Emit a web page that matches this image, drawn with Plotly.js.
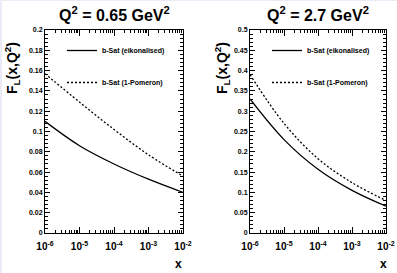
<!DOCTYPE html>
<html>
<head>
<meta charset="utf-8">
<script src="https://cdn.plot.ly/plotly-3.0.1.min.js"></script>
<style>html,body{margin:0;padding:0;background:#fff;}#chart{width:397px;height:273px;}</style>
</head>
<body>
<div id="chart"></div>
<script>
// ---- data ----
const xValues = [1e-6, 1e-5, 1e-4, 1e-3, 1e-2];
const xTickVals = [1e-6, 1e-5, 1e-4, 1e-3, 1e-2];
const xTickText = ['<b>10<sup>-6</sup></b>', '<b>10<sup>-5</sup></b>', '<b>10<sup>-4</sup></b>', '<b>10<sup>-3</sup></b>', '<b>10<sup>-2</sup></b>'];
const seriesNames = ['b-Sat (eikonalised)', 'b-Sat (1-Pomeron)'];
const panelTitles = ['Q<sup>2</sup> = 0.65 GeV<sup>2</sup>', 'Q<sup>2</sup> = 2.7 GeV<sup>2</sup>'];
const eikLow = [0.110, 0.086, 0.068, 0.053, 0.040];
const pomLow = [0.157, 0.129, 0.102, 0.077, 0.056];
const eikHigh = [0.330, 0.230, 0.157, 0.105, 0.066];
const pomHigh = [0.390, 0.270, 0.183, 0.124, 0.080];

// minor tick positions (2..9 per decade)
const minorVals = [];
for (let e = -6; e < -2; e++) for (let m = 2; m <= 9; m++) minorVals.push(m * Math.pow(10, e));

const FONT = 'Liberation Sans, Arial, sans-serif';
const W = 397, H = 273;

function mkTrace(x, y, name, xa, ya, dash, leg, grp) {
  return {x: x, y: y, name: '<b>' + name + '</b>', xaxis: xa, yaxis: ya, mode: 'lines', type: 'scatter',
    line: {color: 'black', width: 1.3, dash: dash, shape: 'spline', smoothing: 1},
    legend: leg, legendgroup: grp, hoverinfo: 'skip'};
}
const data = [
  mkTrace(xValues, eikLow, seriesNames[0], 'x', 'y', 'solid', 'legend', 'a1'),
  mkTrace(xValues, pomLow, seriesNames[1], 'x', 'y', '2px,2px', 'legend', 'a2'),
  mkTrace(xValues, eikHigh, seriesNames[0], 'x2', 'y2', 'solid', 'legend2', 'b1'),
  mkTrace(xValues, pomHigh, seriesNames[1], 'x2', 'y2', '2px,2px', 'legend2', 'b2')
];

function xAxis(dom, anchor) {
  return {type: 'log', domain: dom, anchor: anchor, range: [-6, -2],
    tickmode: 'array', tickvals: xTickVals, ticktext: xTickText,
    ticks: 'inside', ticklen: 6, tickcolor: 'black', tickwidth: 1, ticklabelstandoff: 4,
    showline: true, linecolor: 'black', linewidth: 1, mirror: 'ticks',
    showgrid: false, zeroline: false,
    tickfont: {family: FONT, size: 10, color: 'black', weight: 'bold'},
    minor: {tickmode: 'array', tickvals: minorVals, ticks: 'inside', ticklen: 3, tickcolor: 'black', showgrid: false},
    fixedrange: true};
}
function yAxis(range, dtick, mdt, anchor) {
  return {domain: [40 / H, 1 - 30 / H], anchor: anchor, range: range,
    tickmode: 'linear', tick0: 0, dtick: dtick,
    ticks: 'inside', ticklen: 5, tickcolor: 'black', tickwidth: 1,
    showline: true, linecolor: 'black', linewidth: 1, mirror: 'ticks',
    showgrid: false, zeroline: false,
    tickfont: {family: FONT, size: 7, color: 'black', weight: 'bold'},
    minor: {dtick: mdt, ticks: 'inside', ticklen: 3, tickcolor: 'black', showgrid: false},
    fixedrange: true};
}

const legFont = {family: FONT, size: 7, color: 'black', weight: 'bold'};
const layout = {
  width: W, height: H,
  margin: {l: 0, r: 0, t: 0, b: 0},
  paper_bgcolor: 'white', plot_bgcolor: 'white',
  showlegend: true,
  xaxis: xAxis([45 / W, 183 / W], 'y'),
  yaxis: yAxis([0, 0.2], 0.02, 0.004, 'x'),
  xaxis2: xAxis([250 / W, 386 / W], 'y2'),
  yaxis2: yAxis([0, 0.5], 0.05, 0.01, 'x2'),
  legend: {x: 62 / W, y: 1 - 36 / H, xanchor: 'left', yanchor: 'top', bgcolor: 'rgba(0,0,0,0)',
    font: legFont, tracegroupgap: 13, itemwidth: 30},
  legend2: {x: 267 / W, y: 1 - 36 / H, xanchor: 'left', yanchor: 'top', bgcolor: 'rgba(0,0,0,0)',
    font: legFont, tracegroupgap: 13, itemwidth: 30},
  annotations: [
    {text: '<b>' + panelTitles[0] + '</b>', xref: 'paper', yref: 'paper', x: 114 / W, y: 1 - 14 / H, xanchor: 'center', yanchor: 'middle',
      showarrow: false, font: {family: FONT, size: 16, color: 'black'}},
    {text: '<b>' + panelTitles[1] + '</b>', xref: 'paper', yref: 'paper', x: 318 / W, y: 1 - 14 / H, xanchor: 'center', yanchor: 'middle',
      showarrow: false, font: {family: FONT, size: 16, color: 'black'}},
    {text: '<b>F<sub>L</sub>(x,Q<sup>2</sup>)</b>', xref: 'paper', yref: 'paper', x: 12 / W, y: 1 - 68 / H, textangle: -90,
      xanchor: 'center', yanchor: 'middle', showarrow: false, font: {family: FONT, size: 14, color: 'black'}},
    {text: '<b>F<sub>L</sub>(x,Q<sup>2</sup>)</b>', xref: 'paper', yref: 'paper', x: 222 / W, y: 1 - 68 / H, textangle: -90,
      xanchor: 'center', yanchor: 'middle', showarrow: false, font: {family: FONT, size: 14, color: 'black'}},
    {text: '<b>x</b>', xref: 'paper', yref: 'paper', x: 178 / W, y: 1 - 264 / H, xanchor: 'center', yanchor: 'middle',
      showarrow: false, font: {family: FONT, size: 12, color: 'black'}},
    {text: '<b>x</b>', xref: 'paper', yref: 'paper', x: 383 / W, y: 1 - 264 / H, xanchor: 'center', yanchor: 'middle',
      showarrow: false, font: {family: FONT, size: 12, color: 'black'}}
  ],
  shapes: [
    {type: 'rect', xref: 'paper', yref: 'paper', x0: 0, x1: 2 / W, y0: 0, y1: 1, line: {width: 0}, fillcolor: '#ebebf7', layer: 'below'},
    {type: 'rect', xref: 'paper', yref: 'paper', x0: 0, x1: 1, y0: 1 - 1 / H, y1: 1, line: {width: 0}, fillcolor: '#ebebf7', layer: 'below'}
  ]
};

Plotly.newPlot('chart', data, layout, {staticPlot: true, displayModeBar: false});
</script>
</body>
</html>
